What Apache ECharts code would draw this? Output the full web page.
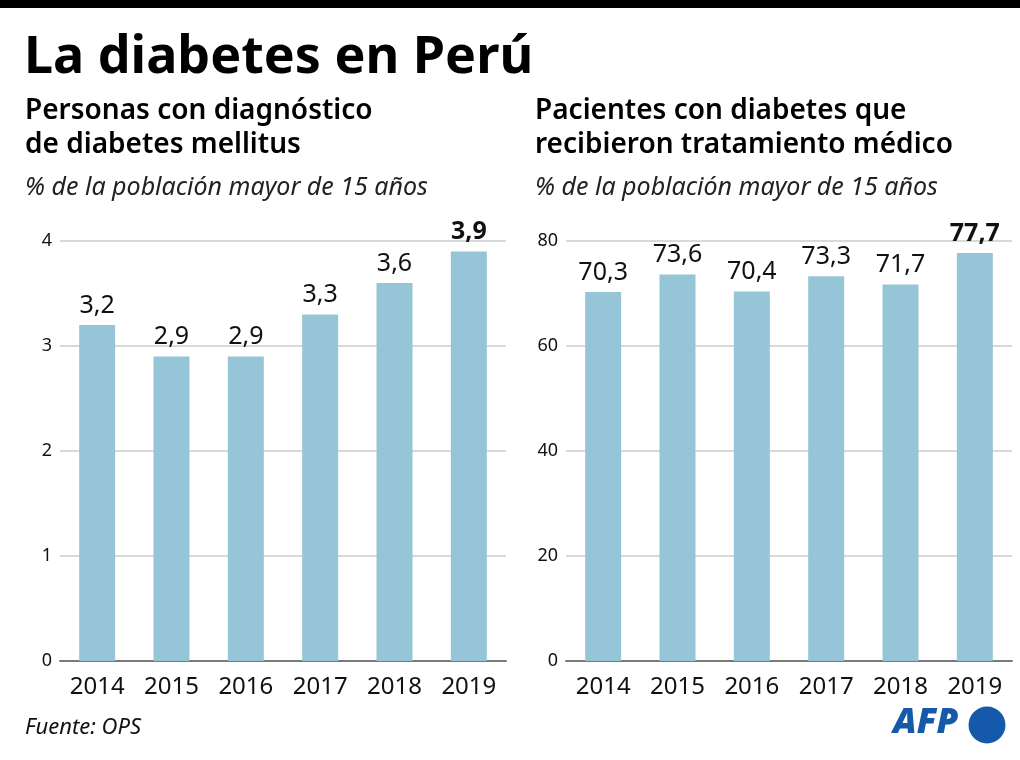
<!DOCTYPE html>
<html><head><meta charset="utf-8">
<script src="https://cdn.jsdelivr.net/npm/echarts@6/dist/echarts.min.js"></script>
<style>html,body{margin:0;padding:0;background:#fff}#c{width:1020px;height:760px}</style>
</head><body><div id="c"></div>
<script>
const years = ['2014','2015','2016','2017','2018','2019'];
const diagnosed = [3.2, 2.9, 2.9, 3.3, 3.6, 3.9];
const treated = [70.3, 73.6, 70.4, 73.3, 71.7, 77.7];
const leftTicks = {min:0, max:4, interval:1};
const rightTicks = {min:0, max:80, interval:20};

const FONT = '"Noto Sans", sans-serif';
const BAR = '#97c5d8';
const fmt = p => String(p.value).replace('.', ',');
const mk = arr => arr.map((v,i) => i === arr.length-1 ? {value:v, label:{fontWeight:'bold'}} : v);

const chart = echarts.init(document.getElementById('c'), null, {renderer:'canvas'});
const xAxisBase = {
  type:'category', data: years,
  axisLine:{lineStyle:{color:'#7a7a7a', width:2}},
  axisTick:{show:false},
  axisLabel:{color:'#111', fontSize:24, fontFamily:FONT, margin:14}
};
const yAxisBase = {
  type:'value',
  axisLine:{show:false}, axisTick:{show:false},
  splitLine:{lineStyle:{color:'#d9d9d9', width:2}},
  axisLabel:{color:'#111', fontSize:18, fontFamily:FONT, margin:8}
};
const seriesBase = {
  type:'bar', barWidth:36, itemStyle:{color:BAR},
  label:{show:true, position:'top', distance:7, fontSize:25, color:'#111', fontFamily:FONT, formatter:fmt},
  animation:false
};
chart.setOption({
  animation:false,
  grid:[
    {left:60, top:241, width:446, height:420},
    {left:566, top:241, width:446, height:420}
  ],
  xAxis:[
    Object.assign({gridIndex:0}, xAxisBase),
    Object.assign({gridIndex:1}, xAxisBase)
  ],
  yAxis:[
    Object.assign({gridIndex:0}, yAxisBase, leftTicks),
    Object.assign({gridIndex:1}, yAxisBase, rightTicks)
  ],
  series:[
    Object.assign({xAxisIndex:0, yAxisIndex:0, data:mk(diagnosed)}, seriesBase),
    Object.assign({xAxisIndex:1, yAxisIndex:1, data:mk(treated)}, seriesBase)
  ],
  graphic:[
    {type:'rect', shape:{x:0,y:0,width:1020,height:8}, style:{fill:'#000'}},
    {type:'text', x:24, y:32, style:{text:'La diabetes en Perú', font:'bold 52px '+FONT, fill:'#000'}},
    {type:'text', x:25, y:94, style:{text:'Personas con diagnóstico\nde diabetes mellitus', font:'600 28px '+FONT, fill:'#000', lineHeight:34}},
    {type:'text', x:535, y:94, style:{text:'Pacientes con diabetes que\nrecibieron tratamiento médico', font:'600 28px '+FONT, fill:'#000', lineHeight:34}},
    {type:'text', x:25, y:175, style:{text:'% de la población mayor de 15 años', font:'italic 25px '+FONT, fill:'#222'}},
    {type:'text', x:535, y:175, style:{text:'% de la población mayor de 15 años', font:'italic 25px '+FONT, fill:'#222'}},
    {type:'text', x:25, y:717, style:{text:'Fuente: OPS', font:'italic 22px '+FONT, fill:'#111'}},
    {type:'text', x:893, y:706, style:{text:'AFP', font:'italic 900 35px '+FONT, fill:'#1559aa'}},
    {type:'circle', shape:{cx:987, cy:725, r:18.5}, style:{fill:'#1559aa'}}
  ]
});
</script></body></html>
